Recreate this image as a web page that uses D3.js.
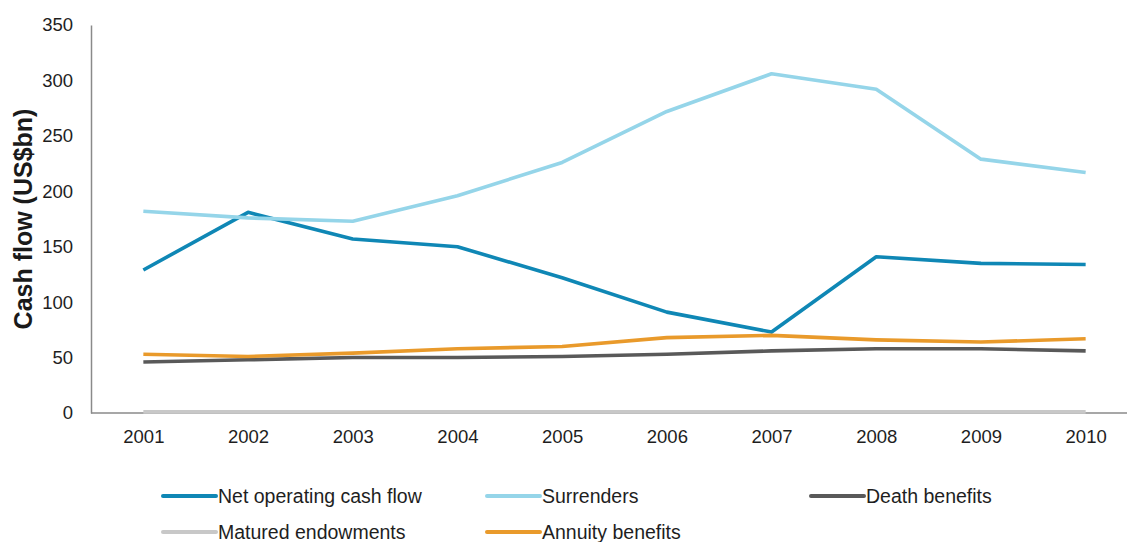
<!DOCTYPE html>
<html>
<head>
<meta charset="utf-8">
<script src="https://cdn.jsdelivr.net/npm/d3@7/dist/d3.min.js"></script>
<style>
  html, body { margin: 0; padding: 0; background: #fff; }
  svg { display: block; font-family: "Liberation Sans", Arial, sans-serif; }
</style>
</head>
<body>
<svg id="chart" width="1127" height="542"></svg>
<script>
// Life insurer cash flows, US$bn
const years = ["2001","2002","2003","2004","2005","2006","2007","2008","2009","2010"];
const yTicks = [0, 50, 100, 150, 200, 250, 300, 350];

const netOperating = [129, 181, 157, 150, 122, 91, 73, 141, 135, 134];
const surrenders   = [182, 176, 173, 196, 226, 272, 306, 292, 229, 217];
const deathBenefits = [46, 48, 50, 50, 51, 53, 56, 58, 58, 56];
const maturedEndowments = [1, 1, 1, 1, 1, 1, 1, 1, 1, 1];
const annuityBenefits = [53, 51, 54, 58, 60, 68, 70, 66, 64, 67];

const seriesNames = ["Net operating cash flow", "Surrenders", "Death benefits", "Matured endowments", "Annuity benefits"];
const seriesValues = [netOperating, surrenders, deathBenefits, maturedEndowments, annuityBenefits];
const seriesColors = ["#0f87b5", "#95d5e9", "#595959", "#c8c8c8", "#e99a2b"];

const svg = d3.select("#chart");
const plotLeft = 91, plotRight = 1138, plotTop = 25, plotBottom = 413;

const x = d3.scalePoint().domain(years).range([plotLeft, plotRight]).padding(0.5);
const y = d3.scaleLinear().domain([0, 350]).range([plotBottom, plotTop]);

// axes
const yAxis = svg.append("g")
  .attr("transform", `translate(${plotLeft},0)`)
  .call(d3.axisLeft(y).tickValues(yTicks).tickSize(0).tickPadding(18));
yAxis.select(".domain").attr("stroke", "#8a8a8a").attr("stroke-width", 1.5);
yAxis.selectAll("text")
  .attr("font-size", "18.5px").attr("fill", "#1e1e1e")
  .attr("font-family", "'Liberation Sans', Arial, sans-serif");

const xAxis = svg.append("g")
  .attr("transform", `translate(0,${plotBottom})`)
  .call(d3.axisBottom(x).tickSize(0).tickPadding(17));
xAxis.select(".domain").attr("d", `M${plotLeft},0H1127`).attr("stroke", "#8a8a8a").attr("stroke-width", 1.5);
xAxis.selectAll("text")
  .attr("font-size", "18.5px").attr("fill", "#1e1e1e")
  .attr("font-family", "'Liberation Sans', Arial, sans-serif");

// y-axis title
svg.append("text")
  .attr("transform", "translate(32,219) rotate(-90)")
  .attr("text-anchor", "middle")
  .attr("font-size", "25px").attr("font-weight", "bold").attr("fill", "#1a1a1a")
  .text("Cash flow (US$bn)");

// series lines
const line = d3.line()
  .x((d, i) => x(years[i]))
  .y(d => y(d));

seriesValues.forEach((vals, k) => {
  svg.append("path")
    .datum(vals)
    .attr("fill", "none")
    .attr("stroke", seriesColors[k])
    .attr("stroke-width", 3.6)
    .attr("stroke-linejoin", "round")
    .attr("d", line);
});

// legend
const legendPos = [[163, 496], [487, 496], [811, 496], [163, 532], [487, 532]];
seriesNames.forEach((name, k) => {
  const [lx, ly] = legendPos[k];
  const g = svg.append("g").attr("transform", `translate(${lx},${ly})`);
  g.append("line")
    .attr("x1", 0).attr("x2", 53).attr("y1", 0).attr("y2", 0)
    .attr("stroke", seriesColors[k]).attr("stroke-width", 4)
    .attr("stroke-linecap", "round");
  g.append("text")
    .attr("x", 55).attr("y", 7)
    .attr("font-size", "19.5px").attr("fill", "#1e1e1e")
    .text(name);
});
</script>
</body>
</html>
